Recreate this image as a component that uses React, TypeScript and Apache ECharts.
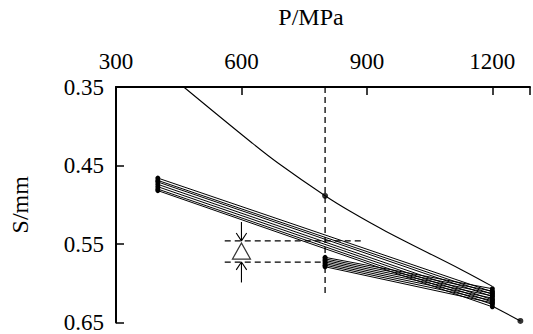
import React, { useEffect, useRef } from "react";
import * as echarts from "echarts";

// ---- data ----
const xTicks = [300, 600, 900, 1200];
const yTicks = [0.35, 0.45, 0.55, 0.65];

// upper bundle: from P=400 to P=1200
const upperStartP = 400;
const upperEndP = 1200;
const upperStartS = [0.466, 0.469, 0.471, 0.474, 0.477, 0.48, 0.482];
const upperEndS = [0.611, 0.614, 0.617, 0.621, 0.624, 0.627, 0.63];

// lower bundle: from P=800 to P=1200
const lowerStartP = 800;
const lowerEndP = 1200;
const lowerStartS = [0.567, 0.569, 0.571, 0.573, 0.575, 0.577, 0.579];
const lowerEndS = [0.607, 0.61, 0.613, 0.616, 0.619, 0.622, 0.625];

// smooth curve
const curveP = [462, 624, 689, 800, 860, 946, 1127, 1200];
const curveS = [0.35, 0.4207, 0.4475, 0.4886, 0.5084, 0.534, 0.583, 0.604];
// tail of the curve
const tailP = [1203, 1267];
const tailS = [0.63, 0.648];
// marked points on the curve
const dotP = [800, 1267];
const dotS = [0.4886, 0.648];

// guides
const vGuideP = 800;
const vGuideS = [0.35, 0.615];
const hGuideUpperS = 0.546;
const hGuideUpperP = [560, 890];
const hGuideLowerS = 0.573;
const hGuideLowerP = [560, 800];

// delta annotation
const deltaP = 600;
const deltaS = 0.559;
const arrowTopS = [0.522, 0.546];
const arrowBottomS = [0.599, 0.573];
const arrowHeadHalfP = 12.5;
const arrowHeadS = 0.01;

const FONT = "Liberation Serif";

function seg(points: number[][], extra: any = {}) {
  return {
    type: "line",
    data: points,
    symbol: "none",
    silent: true,
    lineStyle: { color: "#000", width: 1.1 },
    z: 3,
    ...extra,
  };
}

export default function App() {
  const ref = useRef<HTMLDivElement>(null);
  useEffect(() => {
    if (!ref.current) return;
    const chart = echarts.init(ref.current, undefined, { renderer: "svg" });
    const series: any[] = [];

    const bundleStyle = {
      symbol: "circle",
      symbolSize: 5,
      showSymbol: true,
      itemStyle: { color: "#000" },
      lineStyle: { color: "#000", width: 1 },
    };
    upperStartS.forEach((s, i) => {
      series.push(seg([[upperStartP, s], [upperEndP, upperEndS[i]]], bundleStyle));
    });
    lowerStartS.forEach((s, i) => {
      series.push(seg([[lowerStartP, s], [lowerEndP, lowerEndS[i]]], bundleStyle));
    });

    series.push(seg(curveP.map((p, i) => [p, curveS[i]]), { smooth: 0.4 }));
    series.push(seg(tailP.map((p, i) => [p, tailS[i]])));
    series.push({
      type: "scatter",
      data: dotP.map((p, i) => [p, dotS[i]]),
      symbol: "circle",
      symbolSize: 6,
      itemStyle: { color: "#000" },
      silent: true,
      z: 4,
    });

    const dashed = { lineStyle: { color: "#000", width: 1.3, type: [6, 4] } };
    series.push(seg([[vGuideP, vGuideS[0]], [vGuideP, vGuideS[1]]], dashed));
    series.push(seg([[hGuideUpperP[0], hGuideUpperS], [hGuideUpperP[1], hGuideUpperS]], dashed));
    series.push(seg([[hGuideLowerP[0], hGuideLowerS], [hGuideLowerP[1], hGuideLowerS]], dashed));

    // arrows
    series.push(seg([[deltaP, arrowTopS[0]], [deltaP, arrowTopS[1]]]));
    series.push(
      seg([
        [deltaP - arrowHeadHalfP, arrowTopS[1] - arrowHeadS],
        [deltaP, arrowTopS[1]],
        [deltaP + arrowHeadHalfP, arrowTopS[1] - arrowHeadS],
      ])
    );
    series.push(seg([[deltaP, arrowBottomS[0]], [deltaP, arrowBottomS[1]]]));
    series.push(
      seg([
        [deltaP - arrowHeadHalfP, arrowBottomS[1] + arrowHeadS],
        [deltaP, arrowBottomS[1]],
        [deltaP + arrowHeadHalfP, arrowBottomS[1] + arrowHeadS],
      ])
    );
    series.push({
      type: "scatter",
      data: [[deltaP, deltaS]],
      symbol: "triangle",
      symbolSize: [18, 16],
      itemStyle: { color: "#fff", borderColor: "#000", borderWidth: 1.2 },
      silent: true,
      z: 5,
    });

    const labelStyle = { fontFamily: FONT, fontSize: 23, color: "#000" };

    chart.setOption({
      animation: false,
      textStyle: { fontFamily: FONT },
      grid: { left: 113, top: 81, right: 1, bottom: 10 },
      xAxis: {
        type: "value",
        position: "top",
        min: 300,
        max: 1290,
        interval: 300,
        name: "P/MPa",
        nameLocation: "middle",
        nameGap: 58,
        nameTextStyle: { ...labelStyle, fontSize: 24, padding: [0, 24, 0, 0] },
        axisLine: { show: true, lineStyle: { color: "#000", width: 2 } },
        axisTick: { show: true, inside: true, length: 8, lineStyle: { color: "#000", width: 1.5 } },
        axisLabel: {
          ...labelStyle,
          margin: 14,
          formatter: (v: number) => (xTicks.includes(v) ? String(v) : ""),
        },
        splitLine: { show: false },
      },
      yAxis: {
        type: "value",
        inverse: true,
        min: 0.35,
        max: 0.65,
        interval: 0.1,
        name: "S/mm",
        nameLocation: "middle",
        nameGap: 84,
        nameRotate: 90,
        nameTextStyle: { ...labelStyle, fontSize: 24 },
        axisLine: { show: true, lineStyle: { color: "#000", width: 2 } },
        axisTick: { show: true, inside: true, length: 8, lineStyle: { color: "#000", width: 1.5 } },
        axisLabel: {
          ...labelStyle,
          margin: 12,
          formatter: (v: number) => {
            const t = yTicks.find((y) => Math.abs(y - v) < 1e-6);
            return t !== undefined ? t.toFixed(2) : "";
          },
        },
        splitLine: { show: false },
      },
      series,
    });
    return () => chart.dispose();
  }, []);
  return <div ref={ref} style={{ width: 533, height: 334, position: "absolute", left: 0, top: 0, background: "#fff" }} />;
}
